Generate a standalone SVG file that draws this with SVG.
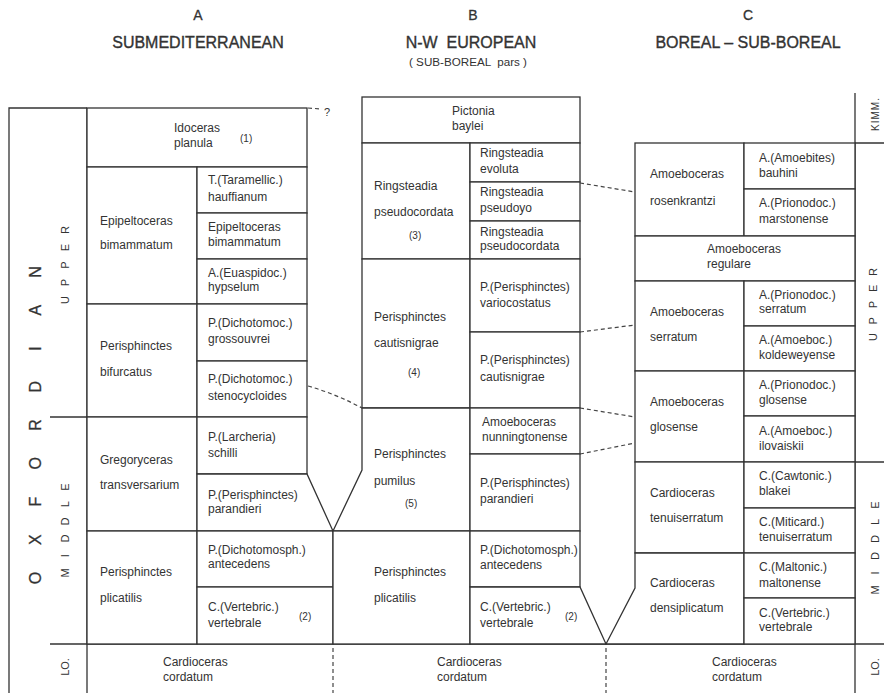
<svg xmlns="http://www.w3.org/2000/svg" width="884" height="693" viewBox="0 0 884 693">
<style>
.b{fill:#fff;stroke:#333;stroke-width:1.3}
.ln{fill:none;stroke:#333;stroke-width:1.3}
.dsh{fill:none;stroke:#444;stroke-width:1.2;stroke-dasharray:4 3}
text{font-family:"Liberation Sans",Arial,sans-serif;fill:#333}
.t{font-size:12px}
.s{font-size:10px}
.h{font-size:16px;stroke:#333;stroke-width:0.35}
.l{font-size:14px;stroke:#333;stroke-width:0.3}
.big{font-size:16px;stroke:#333;stroke-width:0.3}
.sub{font-size:11px}
</style>
<rect width="884" height="693" fill="#fff"/>

<!-- headers -->
<g id="header" text-anchor="middle">
<text class="l" x="198" y="20">A</text>
<text class="h" x="198" y="48">SUBMEDITERRANEAN</text>
<text class="l" x="473" y="20">B</text>
<text class="h" x="471" y="48" xml:space="preserve">N-W  EUROPEAN</text>
<text class="s" x="468" y="66" textLength="118" lengthAdjust="spacingAndGlyphs" xml:space="preserve">( SUB-BOREAL  pars )</text>
<text class="l" x="748" y="20">C</text>
<text class="h" x="748" y="48">BOREAL – SUB-BOREAL</text>
</g>

<!-- frame lines -->
<g id="frame">
<path class="ln" d="M9,693 V108 H87 M87,108 V693 M50,417 H87 M50,644 H884 M855,93 V693 M855,143 H884 M855,462 H884"/>
</g>

<!-- left column labels -->
<g id="stage-left">
<text class="big" transform="translate(35,425) rotate(-90)" text-anchor="middle" y="6" x="-153 -114.75 -76.5 -38.25 0 38.25 76.5 114.75 153">OXFORDIAN</text>
</g>
<g id="substage-left">
<text class="sub" transform="translate(65,265) rotate(-90)" text-anchor="middle" y="4" x="-35 -17.5 0 17.5 35">UPPER</text>
<text class="sub" transform="translate(65,530) rotate(-90)" text-anchor="middle" y="4" x="-43 -25.8 -8.6 8.6 25.8 43">MIDDLE</text>
<text class="sub" transform="translate(65,667) rotate(-90)" text-anchor="middle" y="4">LO.</text>
</g>
<g id="substage-right">
<text class="s" transform="translate(875,114) rotate(-90)" text-anchor="middle" y="4" letter-spacing="1">KIMM.</text>
<text class="sub" transform="translate(873,304.5) rotate(-90)" text-anchor="middle" y="4" x="-32.5 -16.25 0 16.25 32.5">UPPER</text>
<text class="sub" transform="translate(875,547.5) rotate(-90)" text-anchor="middle" y="4" x="-42.5 -25.5 -8.5 8.5 25.5 42.5">MIDDLE</text>
<text class="sub" transform="translate(875,667) rotate(-90)" text-anchor="middle" y="4">LO.</text>
</g>

<!-- Column A -->
<g id="A-idoceras-planula"><rect class="b" x="87" y="108" width="220" height="59"/><text class="t" x="174" y="132">Idoceras</text><text class="t" x="174" y="147">planula</text><text class="s" x="240" y="142">(1)</text></g>
<g id="A-epipeltoceras-bimammatum"><rect class="b" x="87" y="167" width="110" height="137"/><text class="t" x="100" y="225">Epipeltoceras</text><text class="t" x="100" y="249">bimammatum</text></g>
<g id="A-hauffianum"><rect class="b" x="197" y="167" width="110" height="46"/><text class="t" x="208" y="184">T.(Taramellic.)</text><text class="t" x="208" y="201">hauffianum</text></g>
<g id="A-bimammatum"><rect class="b" x="197" y="213" width="110" height="46"/><text class="t" x="208" y="231">Epipeltoceras</text><text class="t" x="208" y="246">bimammatum</text></g>
<g id="A-hypselum"><rect class="b" x="197" y="259" width="110" height="45"/><text class="t" x="208" y="277">A.(Euaspidoc.)</text><text class="t" x="208" y="291">hypselum</text></g>
<g id="A-perisphinctes-bifurcatus"><rect class="b" x="87" y="304" width="110" height="113"/><text class="t" x="100" y="350">Perisphinctes</text><text class="t" x="100" y="376">bifurcatus</text></g>
<g id="A-grossouvrei"><rect class="b" x="197" y="304" width="110" height="57"/><text class="t" x="208" y="327">P.(Dichotomoc.)</text><text class="t" x="208" y="343">grossouvrei</text></g>
<g id="A-stenocycloides"><rect class="b" x="197" y="361" width="110" height="56"/><text class="t" x="208" y="383">P.(Dichotomoc.)</text><text class="t" x="208" y="400">stenocycloides</text></g>
<g id="A-gregoryceras-transversarium"><rect class="b" x="87" y="417" width="110" height="114"/><text class="t" x="100" y="464">Gregoryceras</text><text class="t" x="100" y="489">transversarium</text></g>
<g id="A-schilli"><rect class="b" x="197" y="417" width="110" height="57"/><text class="t" x="208" y="441">P.(Larcheria)</text><text class="t" x="208" y="457">schilli</text></g>
<g id="A-parandieri"><polygon class="b" points="197,474 307,474 333,531 197,531"/><text class="t" x="208" y="499">P.(Perisphinctes)</text><text class="t" x="208" y="513">parandieri</text></g>
<g id="A-perisphinctes-plicatilis"><rect class="b" x="87" y="531" width="110" height="113"/><text class="t" x="100" y="576">Perisphinctes</text><text class="t" x="100" y="602">plicatilis</text></g>
<g id="A-antecedens"><rect class="b" x="197" y="531" width="136" height="56"/><text class="t" x="208" y="554">P.(Dichotomosph.)</text><text class="t" x="208" y="568">antecedens</text></g>
<g id="A-vertebrale"><rect class="b" x="197" y="587" width="136" height="57"/><text class="t" x="208" y="611">C.(Vertebric.)</text><text class="t" x="208" y="627">vertebrale</text><text class="s" x="299" y="620">(2)</text></g>
<g id="A-cardioceras-cordatum"><text class="t" x="163" y="666">Cardioceras</text><text class="t" x="163" y="681">cordatum</text></g>

<!-- Column B -->
<g id="B-pictonia-baylei"><rect class="b" x="362" y="97" width="218" height="46"/><text class="t" x="452" y="115">Pictonia</text><text class="t" x="452" y="130">baylei</text></g>
<g id="B-ringsteadia-pseudocordata"><rect class="b" x="362" y="143" width="108" height="116"/><text class="t" x="374" y="190">Ringsteadia</text><text class="t" x="374" y="216">pseudocordata</text><text class="s" x="409" y="239">(3)</text></g>
<g id="B-evoluta"><rect class="b" x="470" y="143" width="110" height="39"/><text class="t" x="480" y="157">Ringsteadia</text><text class="t" x="480" y="173">evoluta</text></g>
<g id="B-pseudoyo"><rect class="b" x="470" y="182" width="110" height="39"/><text class="t" x="480" y="196">Ringsteadia</text><text class="t" x="480" y="212">pseudoyo</text></g>
<g id="B-pseudocordata"><rect class="b" x="470" y="221" width="110" height="38"/><text class="t" x="480" y="236">Ringsteadia</text><text class="t" x="480" y="250">pseudocordata</text></g>
<g id="B-perisphinctes-cautisnigrae"><rect class="b" x="362" y="259" width="108" height="149"/><text class="t" x="374" y="321">Perisphinctes</text><text class="t" x="374" y="347">cautisnigrae</text><text class="s" x="408" y="376">(4)</text></g>
<g id="B-variocostatus"><rect class="b" x="470" y="259" width="110" height="73"/><text class="t" x="480" y="291">P.(Perisphinctes)</text><text class="t" x="480" y="307">variocostatus</text></g>
<g id="B-cautisnigrae"><rect class="b" x="470" y="332" width="110" height="76"/><text class="t" x="480" y="364">P.(Perisphinctes)</text><text class="t" x="480" y="381">cautisnigrae</text></g>
<g id="B-perisphinctes-pumilus"><polygon class="b" points="362,408 470,408 470,531 333,531 362,470"/><text class="t" x="374" y="458">Perisphinctes</text><text class="t" x="374" y="485">pumilus</text><text class="s" x="405" y="507">(5)</text></g>
<g id="B-nunningtonense"><rect class="b" x="470" y="408" width="110" height="46"/><text class="t" x="482" y="426">Amoeboceras</text><text class="t" x="482" y="441">nunningtonense</text></g>
<g id="B-parandieri"><rect class="b" x="470" y="454" width="110" height="77"/><text class="t" x="480" y="487">P.(Perisphinctes)</text><text class="t" x="480" y="503">parandieri</text></g>
<g id="B-perisphinctes-plicatilis"><rect class="b" x="333" y="531" width="137" height="113"/><text class="t" x="374" y="576">Perisphinctes</text><text class="t" x="374" y="602">plicatilis</text></g>
<g id="B-antecedens"><rect class="b" x="470" y="531" width="110" height="56"/><text class="t" x="480" y="554">P.(Dichotomosph.)</text><text class="t" x="480" y="569">antecedens</text></g>
<g id="B-vertebrale"><polygon class="b" points="470,587 580,587 606,644 470,644"/><text class="t" x="480" y="611">C.(Vertebric.)</text><text class="t" x="480" y="627">vertebrale</text><text class="s" x="565" y="620">(2)</text></g>
<g id="B-cardioceras-cordatum"><text class="t" x="437" y="666">Cardioceras</text><text class="t" x="437" y="681">cordatum</text></g>

<!-- Column C -->
<g id="C-amoeboceras-rosenkrantzi"><rect class="b" x="635" y="143" width="109" height="93"/><text class="t" x="650" y="178">Amoeboceras</text><text class="t" x="650" y="205">rosenkrantzi</text></g>
<g id="C-bauhini"><rect class="b" x="744" y="143" width="111" height="46"/><text class="t" x="759" y="162">A.(Amoebites)</text><text class="t" x="759" y="177">bauhini</text></g>
<g id="C-marstonense"><rect class="b" x="744" y="189" width="111" height="47"/><text class="t" x="759" y="207">A.(Prionodoc.)</text><text class="t" x="759" y="223">marstonense</text></g>
<g id="C-amoeboceras-regulare"><rect class="b" x="635" y="236" width="220" height="45"/><text class="t" x="707" y="253">Amoeboceras</text><text class="t" x="707" y="268">regulare</text></g>
<g id="C-amoeboceras-serratum"><rect class="b" x="635" y="281" width="109" height="90"/><text class="t" x="650" y="316">Amoeboceras</text><text class="t" x="650" y="341">serratum</text></g>
<g id="C-serratum"><rect class="b" x="744" y="281" width="111" height="45"/><text class="t" x="759" y="299">A.(Prionodoc.)</text><text class="t" x="759" y="313">serratum</text></g>
<g id="C-koldeweyense"><rect class="b" x="744" y="326" width="111" height="45"/><text class="t" x="759" y="344">A.(Amoeboc.)</text><text class="t" x="759" y="359">koldeweyense</text></g>
<g id="C-amoeboceras-glosense"><rect class="b" x="635" y="371" width="109" height="91"/><text class="t" x="650" y="406">Amoeboceras</text><text class="t" x="650" y="431">glosense</text></g>
<g id="C-glosense"><rect class="b" x="744" y="371" width="111" height="45"/><text class="t" x="759" y="389">A.(Prionodoc.)</text><text class="t" x="759" y="404">glosense</text></g>
<g id="C-ilovaiskii"><rect class="b" x="744" y="416" width="111" height="46"/><text class="t" x="759" y="435">A.(Amoeboc.)</text><text class="t" x="759" y="450">ilovaiskii</text></g>
<g id="C-cardioceras-tenuiserratum"><rect class="b" x="635" y="462" width="109" height="91"/><text class="t" x="650" y="497">Cardioceras</text><text class="t" x="650" y="522">tenuiserratum</text></g>
<g id="C-blakei"><rect class="b" x="744" y="462" width="111" height="46"/><text class="t" x="759" y="480">C.(Cawtonic.)</text><text class="t" x="759" y="495">blakei</text></g>
<g id="C-tenuiserratum"><rect class="b" x="744" y="508" width="111" height="45"/><text class="t" x="759" y="526">C.(Miticard.)</text><text class="t" x="759" y="541">tenuiserratum</text></g>
<g id="C-cardioceras-densiplicatum"><polygon class="b" points="635,553 744,553 744,644 606,644 635,588"/><text class="t" x="650" y="587">Cardioceras</text><text class="t" x="650" y="612">densiplicatum</text></g>
<g id="C-maltonense"><rect class="b" x="744" y="553" width="111" height="45"/><text class="t" x="759" y="571">C.(Maltonic.)</text><text class="t" x="759" y="587">maltonense</text></g>
<g id="C-vertebrale"><rect class="b" x="744" y="598" width="111" height="46"/><text class="t" x="759" y="617">C.(Vertebric.)</text><text class="t" x="759" y="631">vertebrale</text></g>
<g id="C-cardioceras-cordatum"><text class="t" x="712" y="666">Cardioceras</text><text class="t" x="712" y="681">cordatum</text></g>

<!-- connectors -->
<g id="connectors">
<path class="dsh" d="M333,648 V693 M606,648 V693"/>
<path class="dsh" d="M308,108 L322,109"/>
<text class="sub" x="324" y="116">?</text>
<path class="dsh" d="M308,386 Q336,394 362,408"/>
<path class="dsh" d="M580,183 L635,192"/>
<path class="dsh" d="M580,332 L635,325"/>
<path class="dsh" d="M580,408 L635,417"/>
<path class="dsh" d="M580,454 L635,443"/>
</g>
</svg>
